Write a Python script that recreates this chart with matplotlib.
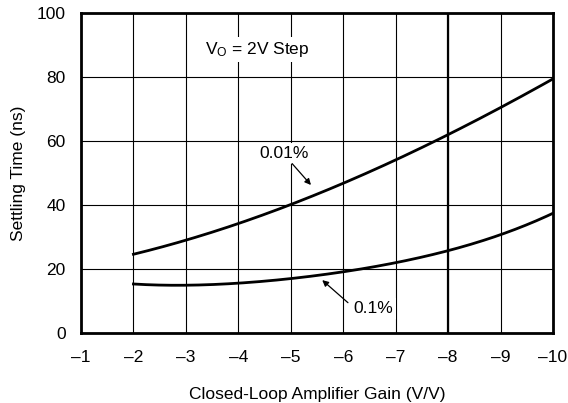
import matplotlib
matplotlib.use('Agg')
import matplotlib.pyplot as plt
import numpy as np

plt.rcParams['font.family'] = ['Liberation Sans', 'DejaVu Sans']

gain = [-2, -3, -4, -5, -6, -7, -8, -9, -10]
settle_001 = [24.9, 28.5, 34.0, 40.6, 47.0, 54.0, 61.9, 70.2, 79.6]
settle_01 = [15.3, 15.0, 15.5, 16.9, 19.4, 21.8, 25.7, 30.8, 37.4]
xticks = [-1, -2, -3, -4, -5, -6, -7, -8, -9, -10]
yticks = [0, 20, 40, 60, 80, 100]

fs = 12.5

fig = plt.figure(figsize=(5.68, 4.03), dpi=100)
ax = fig.add_axes([81/568, 1-333/403, 472/568, 320/403])

# smooth the read-off points for drawing
xs = np.linspace(-2, -10, 200)
c1 = np.polyfit(gain, settle_001, 3)
c2 = np.polyfit(gain, settle_01, 4)
ax.plot(xs, np.polyval(c1, xs), color='black', lw=2, zorder=3)
ax.plot(xs, np.polyval(c2, xs), color='black', lw=2, zorder=3)

ax.set_xlim(-1, -10)
ax.set_ylim(0, 100)
ax.set_xticks(xticks)
ax.set_xticklabels(['\u2013%d' % abs(t) for t in xticks])
ax.set_yticks(yticks)
ax.grid(True, color='black', lw=0.8, zorder=1)
ax.axvline(-8, color='black', lw=1.6, zorder=1)
ax.tick_params(length=0, labelsize=fs)
ax.tick_params(axis='x', pad=12)
ax.tick_params(axis='y', pad=11)
for s in ax.spines.values():
    s.set_linewidth(2)

ax.set_xlabel('Closed-Loop Amplifier Gain (V/V)', fontsize=fs, labelpad=16)
ax.set_ylabel('Settling Time (ns)', fontsize=fs, labelpad=8)

box = dict(facecolor='white', edgecolor='none', pad=2)
ax.text(-3.36, 88.6, '$\\mathregular{V_O}$ = 2V Step', fontsize=fs,
        va='center', ha='left', bbox=box, zorder=4)
ax.text(-4.87, 56.1, '0.01%', fontsize=fs, va='center', ha='center',
        bbox=box, zorder=4)
ax.annotate('', xy=(-5.42, 45.6), xytext=(-4.99, 53.6),
            arrowprops=dict(arrowstyle='-|>', color='black', lw=0.9,
                            mutation_scale=9), zorder=4)
ax.text(-6.2, 7.7, '0.1%', fontsize=fs, va='center', ha='left',
        bbox=box, zorder=4)
ax.annotate('', xy=(-5.56, 17.1), xytext=(-6.13, 8.9),
            arrowprops=dict(arrowstyle='-|>', color='black', lw=0.9,
                            mutation_scale=9), zorder=4)

plt.savefig('out.png', dpi=100)
